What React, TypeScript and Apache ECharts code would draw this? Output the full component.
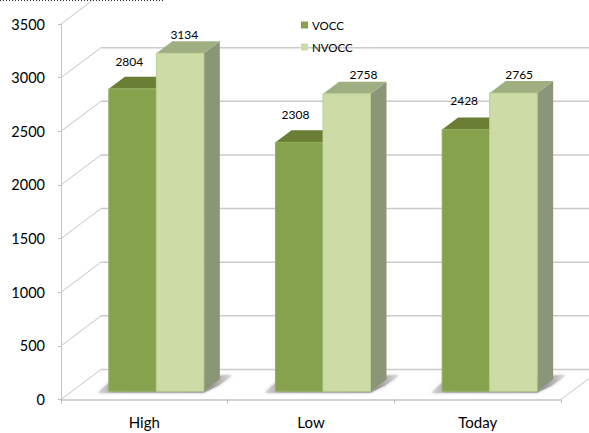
import React, { useEffect, useRef } from "react";
import * as echarts from "echarts";

const categories = ["High", "Low", "Today"];
const voccValues = [2804, 2308, 2428];
const nvoccValues = [3134, 2758, 2765];
const valueTicks = [0, 500, 1000, 1500, 2000, 2500, 3000, 3500];

const FONT = "Lato, 'Open Sans', sans-serif";
const WALL = { dx: 40, dy: -30 };
const FLOOR_DY = -8.3;
const BAR_SCALE = 1.005;
const BAR_W = 47.5;
const DEPTH = { dx: 16, dy: -12 };
const BAR_SHIFT = 12;
const VOCC_LABEL_DX = [20.5, 20, 22];
const NVOCC_LABEL_DX = [28, 40.5, 29.5];
const VOCC_LABEL_DY = [-27, -28, -29];
const NVOCC_LABEL_DY = [-19, -19, -19];

const poly = (points: number[][], fill: any, extra: any = {}) => ({
  type: "polygon",
  shape: { points },
  style: { fill, ...extra },
});

function barRender(side: number, colors: any, dxs: number[], dys: number[]) {
  return (params: any, api: any) => {
    const idx = api.value(0);
    const v = api.value(1);
    const [cx, yv] = api.coord([idx, v]);
    const [, y00] = api.coord([idx, 0]);
    const base = y00 + FLOOR_DY;
    const top = y00 + (yv - y00) * BAR_SCALE + FLOOR_DY;
    const center = cx + BAR_SHIFT;
    const x0 = side < 0 ? center - BAR_W : center;
    const x1 = x0 + BAR_W;
    const { dx, dy } = DEPTH;
    const children: any[] = [];
    children.push(
      poly([[x1, top], [x1 + dx, top + dy], [x1 + dx, base + dy], [x1, base]], colors.side),
      poly([[x0, top], [x0 + dx, top + dy], [x1 + dx, top + dy], [x1, top]], colors.top),
      {
        type: "rect",
        shape: { x: x0, y: top, width: BAR_W, height: base - top },
        style: { fill: colors.front, stroke: colors.edge, lineWidth: 1 },
      },
      {
        type: "text",
        x: x0 + dxs[params.dataIndex],
        y: top + dys[params.dataIndex],
        style: {
          text: String(v),
          fill: "#000",
          font: `12px ${FONT}`,
          align: "center",
          verticalAlign: "middle",
        },
      }
    );
    return { type: "group", children };
  };
}

function shadowRender(_params: any, api: any) {
  const idx = api.value(0);
  const [cx] = api.coord([idx, 0]);
  const [, y00] = api.coord([idx, 0]);
  const base = y00 + FLOOR_DY;
  const center = cx + BAR_SHIFT;
  const l = center - BAR_W;
  const r = center + BAR_W;
  const fill = new echarts.graphic.LinearGradient(0, 0, 1, 0, [
    { offset: 0, color: "#d8d8d8" },
    { offset: 0.12, color: "#a5a5a5" },
    { offset: 0.85, color: "#9a9a9a" },
    { offset: 1, color: "#dedede" },
  ]);
  return poly(
    [[l - 10.5, base + 1.5], [l + 4, base - 12], [r + 28, base - 16], [r + 15, base - 6], [r, base + 1.5]],
    fill,
    { shadowBlur: 3, shadowColor: "rgba(150,150,150,0.7)" }
  );
}

function wallRender(params: any, api: any) {
  const v = api.value(1);
  const [, y] = api.coord([0, v]);
  const left = params.coordSys.x;
  const right = left + params.coordSys.width;
  const children: any[] = [
    {
      type: "line",
      shape: { x1: left, y1: y, x2: left + WALL.dx, y2: y + WALL.dy },
      style: { stroke: "#c4c4c4", lineWidth: 1 },
    },
    {
      type: "line",
      shape: { x1: left + WALL.dx, y1: y + WALL.dy, x2: right + WALL.dx, y2: y + WALL.dy },
      style: { stroke: "#cacaca", lineWidth: 1.5 },
    },
  ];
  if (v === 0) {
    children.push({
      type: "line",
      shape: { x1: right, y1: y, x2: right + WALL.dx, y2: y + WALL.dy },
      style: { stroke: "#c4c4c4", lineWidth: 1 },
    });
  }
  return { type: "group", children };
}

export default function App() {
  const ref = useRef<HTMLDivElement>(null);
  useEffect(() => {
    const chart = echarts.init(ref.current!, null, { renderer: "svg" });
    chart.setOption({
      animation: false,
      backgroundColor: "#fff",
      grid: { left: 61, top: 24, width: 500, height: 375.5 },
      legend: {
        data: ["VOCC", "NVOCC"],
        orient: "vertical",
        left: 301,
        top: 19,
        padding: 0,
        itemWidth: 7,
        itemHeight: 7,
        itemGap: 10,
        icon: "rect",
        textStyle: { fontFamily: FONT, fontSize: 11.5, color: "#000", padding: [0, 0, 0, -1] },
      },
      xAxis: {
        type: "category",
        data: categories,
        axisLine: { lineStyle: { color: "#c4c4c4", width: 1.5 } },
        axisTick: { show: true, length: 4, lineStyle: { color: "#bbb" } },
        axisLabel: { fontFamily: FONT, fontSize: 15, color: "#000", margin: 15 },
        splitLine: { show: false },
      },
      yAxis: {
        type: "value",
        min: 0,
        max: 3500,
        interval: 500,
        axisLine: { show: true, lineStyle: { color: "#c4c4c4", width: 1 } },
        axisTick: { show: true, length: 3, lineStyle: { color: "#bbb" } },
        axisLabel: {
          fontFamily: FONT,
          fontSize: 14.5,
          color: "#000",
          margin: 16,
          formatter: (v: number) => String(v),
        },
        splitLine: { show: false },
      },
      series: [
        {
          type: "custom",
          name: "wall",
          z: 1,
          clip: false,
          silent: true,
          renderItem: wallRender,
          data: valueTicks.map((v) => [0, v]),
        },
        {
          type: "custom",
          name: "shadow",
          z: 2,
          clip: false,
          silent: true,
          renderItem: shadowRender,
          data: categories.map((_, i) => [i, 0]),
        },
        {
          type: "custom",
          name: "VOCC",
          z: 3,
          clip: false,
          itemStyle: { color: "#86a24c" },
          renderItem: barRender(
            -1,
            { front: "#86a24c", top: "#6a7e35", side: "#64772f", edge: "#93ad5c" },
            VOCC_LABEL_DX,
            VOCC_LABEL_DY
          ),
          data: voccValues.map((v, i) => [i, v]),
        },
        {
          type: "custom",
          name: "NVOCC",
          z: 4,
          clip: false,
          itemStyle: { color: "#cddca7" },
          renderItem: barRender(
            1,
            { front: "#cddca7", top: "#a0af82", side: "#8b9678", edge: "#bccd93" },
            NVOCC_LABEL_DX,
            NVOCC_LABEL_DY
          ),
          data: nvoccValues.map((v, i) => [i, v]),
        },
      ],
      graphic: [
        {
          type: "line",
          shape: { x1: 0, y1: 0.5, x2: 165, y2: 0.5 },
          style: { stroke: "#333", lineWidth: 1, lineDash: [1, 2] },
          silent: true,
        },
      ],
    });
    return () => chart.dispose();
  }, []);
  return <div ref={ref} style={{ position: "fixed", left: 0, top: 0, width: 589, height: 433 }} />;
}
